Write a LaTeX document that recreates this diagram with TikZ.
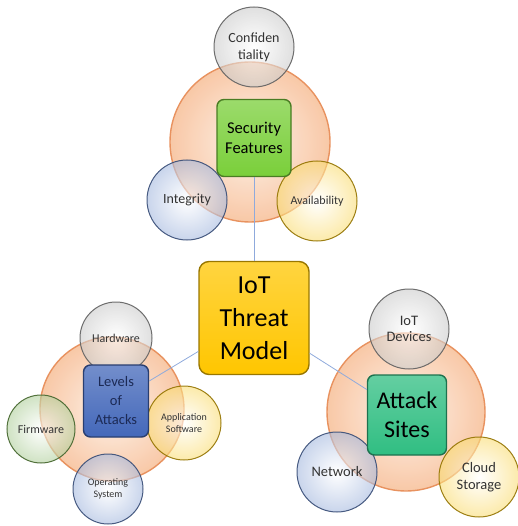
\documentclass[tikz,border=0pt]{standalone}
\usepackage{fontspec}
\setmainfont{Carlito}
\usetikzlibrary{positioning,shapes,calc}

\definecolor{ringin}{HTML}{FEF0E6}
\definecolor{ringout}{HTML}{F7C29D}
\definecolor{ringline}{HTML}{E8925F}
\definecolor{bubgray}{HTML}{A0A0A0}
\definecolor{bubblue}{HTML}{5B7FC4}
\definecolor{bubyellow}{HTML}{F5C000}
\definecolor{bubgreen}{HTML}{6FA84A}
\definecolor{linkblue}{HTML}{8FAADC}
\definecolor{secgreen}{HTML}{7ACF3A}
\definecolor{coregold}{HTML}{FFC600}
\definecolor{lvlblue}{HTML}{4468BA}
\definecolor{lvltext}{HTML}{1C2A55}
\definecolor{sitegreen}{HTML}{30BE82}

\begin{document}
\begin{tikzpicture}[x=1pt,y=-1pt,
    ring/.style={circle, minimum size=158pt, draw=ringline, line width=1.4pt,
        inner color=ringin, outer color=ringout, fill opacity=0.9},
    bubble/.style={circle, minimum size=80pt, inner sep=0pt, align=center,
        draw=#1!60!black, line width=1pt, inner color=white, outer color=#1!55,
        fill opacity=0.6, draw opacity=0.9, text opacity=1, text=black!80,
        font=\fontsize{14}{17}\selectfont},
    topic/.style={rounded corners=7pt, draw=#1!60!black, line width=1.4pt,
        top color=#1!75!white, bottom color=#1, align=center, inner sep=1pt},
    link/.style={draw=linkblue, line width=0.8pt}]
    \useasboundingbox (0,0) rectangle (517,526);

    % Security features group
    \node[ring, minimum size=160pt] (secring) at (250,142) {};
    \node[bubble=bubgray] (conf) at (254,47) {Confiden\\tiality};
    \node[bubble=bubblue] (integ) at (187,200) {Integrity};
    \node[bubble=bubyellow, font=\fontsize{12}{14}\selectfont] (avail) at (317,201) {Availability};

    % Levels of attacks group
    \node[ring, minimum size=144pt] (lvlring) at (112,409) {};
    \node[bubble=bubgray, minimum size=72pt, font=\fontsize{12}{14}\selectfont] (hw) at (116,338) {Hardware};
    \node[bubble=bubgreen, minimum size=68pt, font=\fontsize{12}{14}\selectfont] (fw) at (41,429) {Firmware};
    \node[bubble=bubyellow, minimum size=74pt, font=\fontsize{10}{11.5}\selectfont] (app) at (184,423) {Application\\Software};
    \node[bubble=bubblue, minimum size=70pt, font=\fontsize{10}{12}\selectfont] (os) at (108,489) {Operating\\System};

    % Attack sites group
    \node[ring] (sitering) at (406,412) {};
    \node[bubble=bubgray, font=\fontsize{14.5}{15.5}\selectfont] (dev) at (409,329) {IoT\\Devices};
    \node[bubble=bubblue, font=\fontsize{14.5}{17}\selectfont] (net) at (337,472) {Network};
    \node[bubble=bubyellow, font=\fontsize{14.5}{17}\selectfont] (cloud) at (479,477) {Cloud\\Storage};

    % Topic boxes
    \node[topic=secgreen, minimum width=74pt, minimum height=77pt,
        font=\fontsize{16.5}{20}\selectfont] (secbox) at (254,138) {Security\\Features};
    \node[topic=coregold, minimum width=110pt, minimum height=113pt, rounded corners=10pt,
        font=\fontsize{26}{33}\selectfont] (core) at (254,318) {IoT\\Threat\\Model};
    \node[topic=lvlblue, minimum width=65pt, minimum height=72pt, text=lvltext,
        font=\fontsize{14.5}{19}\selectfont] (lvlbox) at (116,401) {Levels\\of\\Attacks};
    \node[topic=sitegreen, minimum width=79pt, minimum height=80pt,
        font=\fontsize{24}{29}\selectfont] (sitebox) at (407,415) {Attack\\Sites};

    % Links to the model
    \draw[link] (secbox) -- (core);
    \draw[link] (lvlbox) -- (core);
    \draw[link] (core) -- (sitebox);
\end{tikzpicture}
\end{document}
